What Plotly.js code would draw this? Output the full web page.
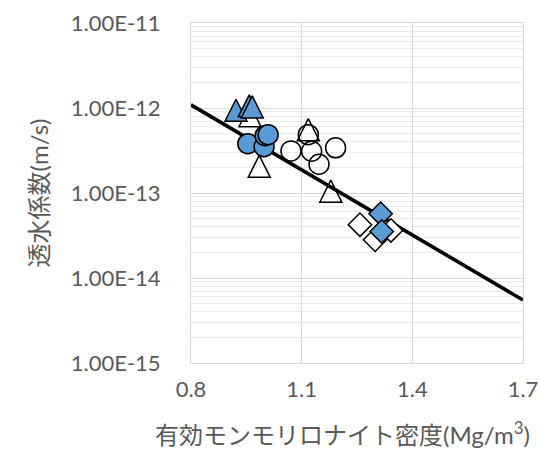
<!DOCTYPE html>
<html>
<head>
<meta charset="utf-8">
<script src="https://cdn.plot.ly/plotly-3.0.1.min.js"></script>
<style>
  html, body { margin: 0; padding: 0; background: #ffffff; }
  #chart { width: 540px; height: 452px; }
</style>
</head>
<body>
<div id="chart"></div>
<script>
// Effective montmorillonite density (Mg/m3) vs. hydraulic conductivity (m/s)

// Triangles, open
const triOpenX = [0.960, 0.985, 1.118, 1.179];
const triOpenY = [8.1e-13, 2.06e-13, 5.56e-13, 1.05e-13];
// Triangles, filled
const triFillX = [0.922, 0.958, 0.966];
const triFillY = [9.4e-13, 1.06e-12, 1.03e-12];

// Circles, open
const cirOpenX = [1.071, 1.118, 1.127, 1.147, 1.192];
const cirOpenY = [3.13e-13, 4.85e-13, 3.10e-13, 2.18e-13, 3.40e-13];
// Circles, filled
const cirFillX = [0.954, 0.998, 1.001, 1.009];
const cirFillY = [3.80e-13, 3.51e-13, 4.72e-13, 4.85e-13];

// Diamonds, open
const diaOpenX = [1.258, 1.299, 1.342];
const diaOpenY = [4.24e-14, 2.82e-14, 3.63e-14];
// Diamonds, filled
const diaFillX = [1.314, 1.317];
const diaFillY = [5.71e-14, 3.53e-14];

// Exponential trend line (straight on the log axis)
const trendX = [0.8, 1.7];
const trendY = [1.09e-12, 5.5e-15];

// Axis ticks
const xTicks = [0.8, 1.1, 1.4, 1.7];
const xTickText = ['0.8', '1.1', '1.4', '1.7'];
const yTicks = [1e-15, 1e-14, 1e-13, 1e-12, 1e-11];
const yTickText = ['1.00E-15', '1.00E-14', '1.00E-13', '1.00E-12', '1.00E-11'];

// Minor log gridlines: 2..9 within each decade
const minorVals = [];
for (let e = -15; e < -11; e++) {
  for (let m = 2; m <= 9; m++) minorVals.push(m * Math.pow(10, e));
}

const BLUE = '#5b9bd5';
const EDGE = { color: '#000000', width: 1.5 };
const TRI_SIZE = 22;

// Upright triangle with a square bounding box centred on the point
function triMarker(fill) {
  return {
    symbol: 'arrow-down', angle: 180, standoff: TRI_SIZE / 2,
    size: TRI_SIZE, color: fill, line: EDGE
  };
}

const traces = [
  { x: trendX, y: trendY, mode: 'lines', line: { color: '#000000', width: 3.6 }, hoverinfo: 'skip' },
  { x: triOpenX, y: triOpenY, mode: 'markers', marker: triMarker('rgba(255,255,255,0)') },
  { x: cirOpenX, y: cirOpenY, mode: 'markers',
    marker: { symbol: 'circle', size: 20, color: 'rgba(255,255,255,0)', line: EDGE } },
  { x: diaOpenX, y: diaOpenY, mode: 'markers',
    marker: { symbol: 'diamond', size: 18, color: '#ffffff', line: EDGE } },
  { x: triFillX, y: triFillY, mode: 'markers', marker: triMarker(BLUE) },
  { x: cirFillX, y: cirFillY, mode: 'markers',
    marker: { symbol: 'circle', size: 20, color: BLUE, line: EDGE } },
  { x: diaFillX, y: diaFillY, mode: 'markers',
    marker: { symbol: 'diamond', size: 18, color: BLUE, line: EDGE } }
];

const FONT = "Lato, 'Noto Sans CJK JP', sans-serif";
const GREY = '#595959';

const layout = {
  width: 540,
  height: 452,
  margin: { l: 191, r: 17, t: 23, b: 89, pad: 0 },
  paper_bgcolor: '#ffffff',
  plot_bgcolor: '#ffffff',
  showlegend: false,
  font: { family: FONT, color: GREY },
  xaxis: {
    range: [0.8, 1.7],
    tickmode: 'array',
    tickvals: xTicks,
    ticktext: xTickText,
    ticks: '',
    ticklabelstandoff: 7,
    tickfont: { family: FONT, size: 22, color: GREY },
    showgrid: true,
    gridcolor: '#d9d9d9',
    gridwidth: 1,
    zeroline: false,
    showline: true,
    linecolor: '#d9d9d9',
    linewidth: 1,
    mirror: true
  },
  yaxis: {
    type: 'log',
    range: [-15, -11],
    tickmode: 'array',
    tickvals: yTicks,
    ticktext: yTickText,
    ticks: '',
    ticklabelstandoff: 25,
    tickfont: { family: FONT, size: 22, color: GREY },
    showgrid: true,
    gridcolor: '#d9d9d9',
    gridwidth: 1,
    zeroline: false,
    showline: true,
    linecolor: '#d9d9d9',
    linewidth: 1,
    mirror: true,
    minor: { tickvals: minorVals, showgrid: true, gridcolor: '#ebebeb', gridwidth: 1, ticks: '' },
    title: {
      text: '透水係数(m/s)',
      font: { family: FONT, size: 24, color: GREY },
      standoff: 15
    }
  },
  annotations: [{
    // x-axis title, centred under the whole chart block
    text: '有効モンモリロナイト密度(Mg/m<sup>3</sup>)',
    xref: 'paper', yref: 'paper',
    x: 0.455, y: -0.206,
    xanchor: 'center', yanchor: 'middle',
    showarrow: false,
    font: { family: FONT, size: 24, color: GREY }
  }]
};

Plotly.newPlot('chart', traces, layout, { staticPlot: true, displayModeBar: false });
</script>
</body>
</html>
